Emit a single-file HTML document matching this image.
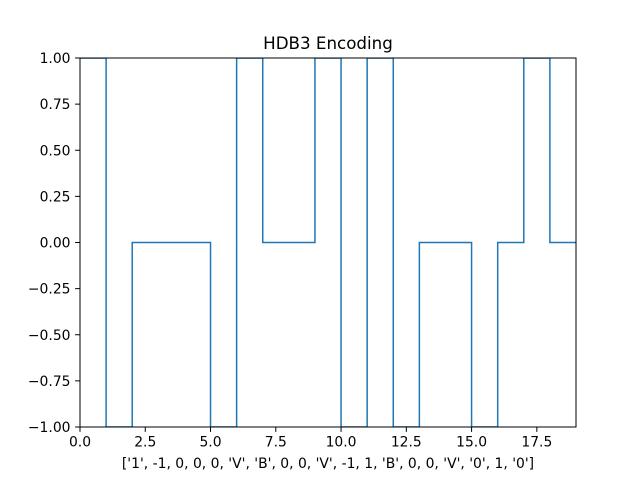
<!DOCTYPE html>
<html><head><meta charset="utf-8"><style>body{margin:0;background:#fff}svg{display:block;font-family:"DejaVu Sans","Liberation Sans",sans-serif}</style></head>
<body>
<svg id="chart" width="640" height="480" viewBox="0 0 640 480" xmlns="http://www.w3.org/2000/svg">
<rect width="640" height="480" fill="#fff"/>
<defs><clipPath id="clip"><rect x="80" y="58" width="496" height="369"/></clipPath></defs>
<text x="328" y="49" font-size="16.7" text-anchor="middle" fill="#000">HDB3 Encoding</text>
<g id="plot" clip-path="url(#clip)"></g>
<g id="axes"></g>
<rect x="80" y="58" width="496" height="369" fill="none" stroke="#000" stroke-width="1"/>
<text x="328" y="468" font-size="13.9" text-anchor="middle" fill="#000">['1', -1, 0, 0, 0, 'V', 'B', 0, 0, 'V', -1, 1, 'B', 0, 0, 'V', '0', 1, '0']</text>
</svg>
<script>
const levels = [1,-1,0,0,0,-1,1,0,0,1,-1,1,-1,0,0,-1,0,1,0];
const xTicks = [0,2.5,5,7.5,10,12.5,15,17.5];
const xTickLabels = ["0.0","2.5","5.0","7.5","10.0","12.5","15.0","17.5"];
const yTicks = [-1,-0.75,-0.5,-0.25,0,0.25,0.5,0.75,1];
const yTickLabels = ["−1.00","−0.75","−0.50","−0.25","0.00","0.25","0.50","0.75","1.00"];
const xMin=0,xMax=19,yMin=-1,yMax=1;
const L=80,R=576,T=58,B=427;
const sx=v=>L+(v-xMin)/(xMax-xMin)*(R-L);
const sy=v=>B-(v-yMin)/(yMax-yMin)*(B-T);
const NS="http://www.w3.org/2000/svg";
const plot=document.getElementById('plot'), axes=document.getElementById('axes');
let d='';
levels.forEach((v,i)=>{d+=(i===0?'M':'L')+sx(i)+','+sy(v)+' L'+sx(i+1)+','+sy(v)+' ';});
const p=document.createElementNS(NS,'path');
p.setAttribute('d',d);p.setAttribute('fill','none');p.setAttribute('stroke','#1f77b4');p.setAttribute('stroke-width','1.5');


plot.appendChild(p);
xTicks.forEach((t,i)=>{
 const x=sx(t);
 const l=document.createElementNS(NS,'line');
 l.setAttribute('x1',x);l.setAttribute('x2',x);l.setAttribute('y1',B);l.setAttribute('y2',B+4.9);l.setAttribute('stroke','#000');l.setAttribute('stroke-width','1');
 
 
 axes.appendChild(l);
 const tx=document.createElementNS(NS,'text');
 tx.setAttribute('x',x);tx.setAttribute('y',B+19.5);tx.setAttribute('font-size','13.9');tx.setAttribute('text-anchor','middle');
 tx.textContent=xTickLabels[i];
 
 
 axes.appendChild(tx);
});
yTicks.forEach((t,i)=>{
 const y=sy(t);
 const l=document.createElementNS(NS,'line');
 l.setAttribute('x1',L-4.9);l.setAttribute('x2',L);l.setAttribute('y1',y);l.setAttribute('y2',y);l.setAttribute('stroke','#000');l.setAttribute('stroke-width','1');
 
 
 axes.appendChild(l);
 const tx=document.createElementNS(NS,'text');
 tx.setAttribute('x',L-9.5);tx.setAttribute('y',y+5);tx.setAttribute('font-size','13.9');tx.setAttribute('text-anchor','end');
 tx.textContent=yTickLabels[i];
 
 
 axes.appendChild(tx);
});
</script>
</body></html>
